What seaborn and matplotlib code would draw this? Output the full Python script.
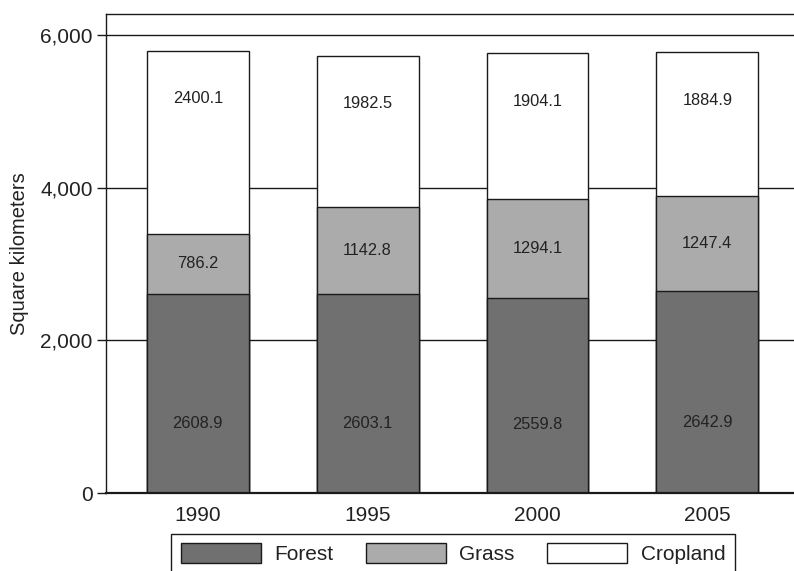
import numpy as np
import pandas as pd
import matplotlib
matplotlib.use("Agg")
import matplotlib.pyplot as plt
import seaborn as sb
from matplotlib.patches import Patch
from matplotlib.ticker import FuncFormatter

# Données
annees = ["1990", "1995", "2000", "2005"]
forest = [2608.9, 2603.1, 2559.8, 2642.9]
grass = [786.2, 1142.8, 1294.1, 1247.4]
cropland = [2400.1, 1982.5, 1904.1, 1884.9]

df = pd.DataFrame({"annee": annees, "Forest": forest, "Grass": grass, "Cropland": cropland})
df["fg"] = df["Forest"] + df["Grass"]
df["total"] = df["fg"] + df["Cropland"]

sb.set_style("ticks")
plt.rcParams["font.family"] = ["Liberation Sans", "DejaVu Sans"]

fig = plt.figure(figsize=(7.94, 5.71), dpi=100)
ax = fig.add_axes([0.1335, 0.1366, 0.8665, 0.839])

couleurs = {"Forest": "#707070", "Grass": "#ababab", "Cropland": "#ffffff"}

# barres empilées : on trace du total vers le bas
for col, c in [("total", couleurs["Cropland"]), ("fg", couleurs["Grass"]), ("Forest", couleurs["Forest"])]:
    sb.barplot(data=df, x="annee", y=col, color=c, saturation=1, width=0.6,
               edgecolor="#1a1a1a", linewidth=1.0, ax=ax, zorder=2)

# étiquettes des valeurs
for i, row in df.iterrows():
    ax.text(i, row["Forest"] * 0.35, f"{row['Forest']:.1f}", ha="center", va="center",
            fontsize=11.8, color="#222222", zorder=3)
    ax.text(i, row["Forest"] + row["Grass"] / 2, f"{row['Grass']:.1f}", ha="center", va="center",
            fontsize=11.8, color="#222222", zorder=3)
    ax.text(i, row["total"] - 630, f"{row['Cropland']:.1f}", ha="center", va="center",
            fontsize=11.8, color="#222222", zorder=3)

ax.set_xlim(-0.54, 3.51)
ax.set_ylim(0, 6275)
ax.set_yticks([0, 2000, 4000, 6000])
ax.yaxis.set_major_formatter(FuncFormatter(lambda v, p: f"{v:,.0f}"))
ax.set_axisbelow(True)
ax.yaxis.grid(True, color="#1a1a1a", linewidth=1.0)
ax.xaxis.grid(False)

ax.set_xlabel("")
ax.set_ylabel("Square kilometers", fontsize=14.5, color="#222222", labelpad=8)
ax.tick_params(axis="y", length=6.5, width=1.0, color="#1a1a1a", labelsize=15, labelcolor="#222222", pad=3)
ax.tick_params(axis="x", length=0, labelsize=15, labelcolor="#222222", pad=9)

ax.spines["right"].set_visible(False)
for s in ["left", "top"]:
    ax.spines[s].set_linewidth(1.0)
    ax.spines[s].set_color("#1a1a1a")
ax.spines["bottom"].set_linewidth(1.6)
ax.spines["bottom"].set_color("#1a1a1a")

handles = [Patch(facecolor=couleurs[k], edgecolor="#1a1a1a", linewidth=1.0, label=k)
           for k in ["Forest", "Grass", "Cropland"]]
leg = fig.legend(handles=handles, loc="upper center", bbox_to_anchor=(453 / 794, 1 - 534 / 571),
                 ncol=3, frameon=True, fancybox=False, fontsize=15, handlelength=3.85,
                 handleheight=1.05, handletextpad=0.65, columnspacing=1.55, borderpad=0.45,
                 borderaxespad=0)
leg.get_frame().set_edgecolor("#1a1a1a")
leg.get_frame().set_linewidth(1.0)
leg.get_frame().set_alpha(1)
for t in leg.get_texts():
    t.set_color("#222222")

fig.savefig("out.png", dpi=100)
